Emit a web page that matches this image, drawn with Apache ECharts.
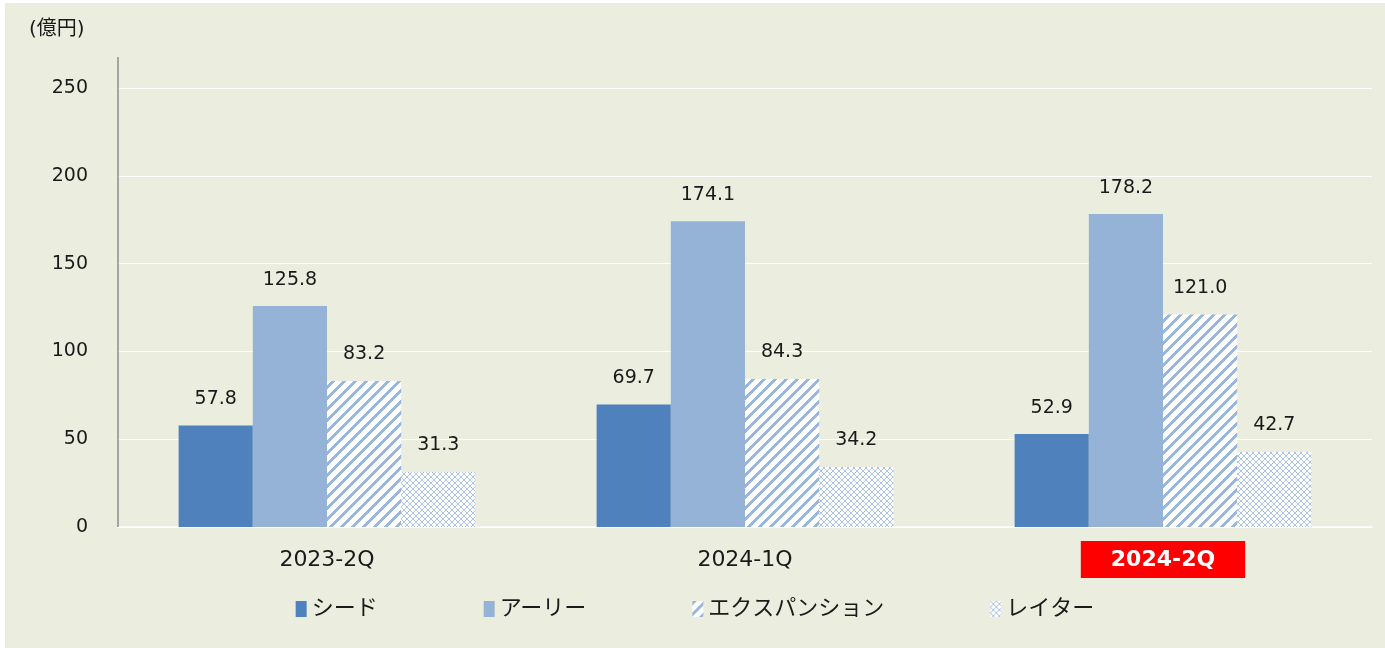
<!DOCTYPE html>
<html>
<head>
<meta charset="utf-8">
<script src="https://cdn.jsdelivr.net/npm/echarts@6/dist/echarts.min.js"></script>
<style>
  html, body { margin: 0; padding: 0; background: #ffffff; }
  #chart { position: absolute; left: 5px; top: 3px; width: 1380px; height: 645px; }
</style>
</head>
<body>
<div id="chart"></div>
<script>
const categories = ['2023-2Q', '2024-1Q', '2024-2Q'];
const seriesNames = ['シード', 'アーリー', 'エクスパンション', 'レイター'];
const seed = [57.8, 69.7, 52.9];
const early = [125.8, 174.1, 178.2];
const expansion = [83.2, 84.3, 121.0];
const later = [31.3, 34.2, 42.7];
const yTicks = [0, 50, 100, 150, 200, 250];

const FONT = "'DejaVu Sans', 'Noto Sans CJK JP', sans-serif";

// diagonal stripes for the expansion bars, drawn per pixel so tiles join cleanly
function stripePattern() {
  const s = 11, w = 3.6;
  const c = document.createElement('canvas');
  c.width = s; c.height = s;
  const g = c.getContext('2d');
  const img = g.createImageData(s, s);
  const blue = [152, 182, 222];
  for (let y = 0; y < s; y++) {
    for (let x = 0; x < s; x++) {
      const d = (x + y) % s + 0.5;
      let a = 0;
      if (d < w) a = 1;
      else if (d < w + 1) a = w + 1 - d;
      const i = (y * s + x) * 4;
      img.data[i] = Math.round(255 + (blue[0] - 255) * a);
      img.data[i + 1] = Math.round(255 + (blue[1] - 255) * a);
      img.data[i + 2] = Math.round(255 + (blue[2] - 255) * a);
      img.data[i + 3] = 255;
    }
  }
  g.putImageData(img, 0, 0);
  return { image: c, repeat: 'repeat' };
}

// fine lattice for the later-stage bars
function latticePattern() {
  const c = document.createElement('canvas');
  c.width = 6; c.height = 6;
  const g = c.getContext('2d');
  g.fillStyle = '#ffffff';
  g.fillRect(0, 0, 6, 6);
  g.strokeStyle = '#abc3e8';
  g.lineWidth = 1;
  g.beginPath();
  g.moveTo(0, 0); g.lineTo(6, 6);
  g.moveTo(6, 0); g.lineTo(0, 6);
  g.stroke();
  return { image: c, repeat: 'repeat' };
}

const chart = echarts.init(document.getElementById('chart'));

const labelStyle = {
  show: true,
  position: 'top',
  distance: 17,
  fontSize: 19,
  color: '#1a1a1a',
  fontFamily: FONT,
  formatter: function (p) { return p.value.toFixed(1); }
};

function bar(name, data, color) {
  return {
    name: name,
    type: 'bar',
    data: data,
    barGap: '0%',
    barCategoryGap: '29%',
    itemStyle: { color: color },
    label: labelStyle
  };
}

const option = {
  backgroundColor: '#ebeedf',
  textStyle: { fontFamily: FONT },
  title: {
    text: '(億円)',
    left: 19,
    top: 12,
    textStyle: { fontSize: 20, fontWeight: 'normal', color: '#1a1a1a', fontFamily: FONT }
  },
  legend: {
    bottom: 23,
    left: 'center',
    itemGap: 106,
    itemWidth: 11,
    itemHeight: 16,
    icon: 'rect',
    textStyle: { fontSize: 22, color: '#1a1a1a', fontFamily: FONT },
    data: seriesNames
  },
  grid: { left: 113, right: 13, top: 85, bottom: 121 },
  xAxis: {
    type: 'category',
    data: categories,
    axisLine: { show: true, lineStyle: { color: '#ffffff', width: 1.5 } },
    axisTick: { show: false },
    axisLabel: {
      margin: 14,
      fontSize: 22,
      color: '#1a1a1a',
      fontFamily: FONT,
      formatter: function (v) {
        return v === categories[categories.length - 1] ? '{hl|' + v + '}' : '{n|' + v + '}';
      },
      rich: {
        n: {
          fontSize: 22,
          color: '#1a1a1a',
          fontFamily: FONT,
          padding: [8, 30, 8, 30]
        },
        hl: {
          color: '#ffffff',
          fontWeight: 'bold',
          fontSize: 22,
          fontFamily: FONT,
          backgroundColor: '#ff0000',
          padding: [8, 30, 7, 30]
        }
      }
    }
  },
  yAxis: {
    type: 'value',
    min: yTicks[0],
    max: yTicks[yTicks.length - 1],
    interval: yTicks[1] - yTicks[0],
    axisLine: { show: false },
    axisTick: { show: false },
    axisLabel: { margin: 30, fontSize: 19, color: '#1a1a1a', fontFamily: FONT },
    splitLine: { lineStyle: { color: '#ffffff', width: 1 } }
  },
  graphic: [{
    type: 'line',
    shape: { x1: 113, y1: 54, x2: 113, y2: 524 },
    style: { stroke: '#8c8c8c', lineWidth: 1.5 },
    z: 10
  }],
  series: [
    bar(seriesNames[0], seed, '#4f81bd'),
    bar(seriesNames[1], early, '#95b3d7'),
    bar(seriesNames[2], expansion, stripePattern()),
    bar(seriesNames[3], later, latticePattern())
  ]
};

chart.setOption(option);
</script>
</body>
</html>
